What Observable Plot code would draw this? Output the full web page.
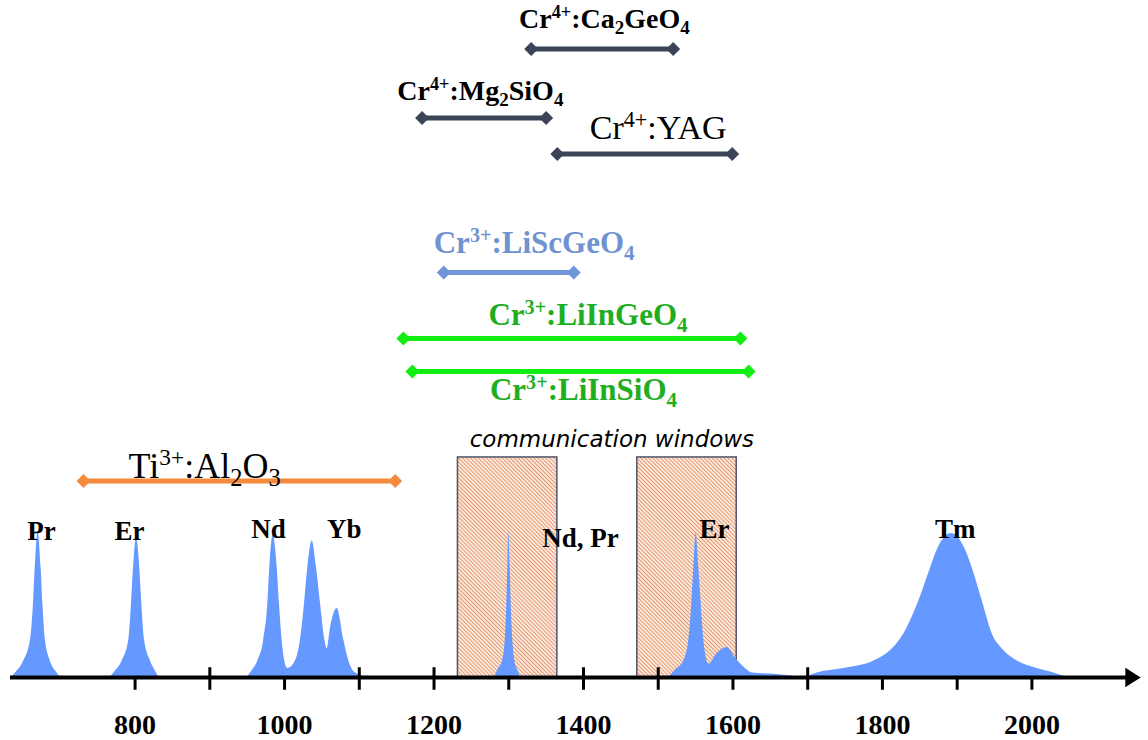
<!DOCTYPE html>
<html>
<head>
<meta charset="utf-8">
<script src="https://cdn.jsdelivr.net/npm/d3@7"></script>
<script src="https://cdn.jsdelivr.net/npm/@observablehq/plot@0.6"></script>
<style>
  html, body { margin: 0; padding: 0; background: #fff; }
  #chart svg { display: block; overflow: visible; }
</style>
</head>
<body>
<div id="chart"></div>
<script>
// ---------------- DATA ----------------
// Tunable laser crystals: name (with ^{sup} / _{sub} markup), tuning range in nm
const crystals   = ["Cr^{4+}:Ca_{2}GeO_{4}", "Cr^{4+}:Mg_{2}SiO_{4}", "Cr^{4+}:YAG", "Cr^{3+}:LiScGeO_{4}", "Cr^{3+}:LiInGeO_{4}", "Cr^{3+}:LiInSiO_{4}", "Ti^{3+}:Al_{2}O_{3}"];
const tuneStart  = [1330, 1184, 1365, 1213, 1159, 1171, 731];
const tuneEnd    = [1520, 1350, 1599, 1387, 1610, 1621, 1148];

// Telecom communication windows (nm)
const windowStart = [1232, 1472];
const windowEnd   = [1365, 1605];

// Rare-earth emission bands: [wavelength nm, relative intensity]
const prBand    = [[634.6,0],[640,0.03],[651,0.11],[660,0.25],[664,0.49],[666.3,0.73],[670.3,0.97],[674.3,0.73],[676.6,0.49],[680,0.25],[686.6,0.11],[695.6,0.03],[700,0]];
const er800Band = [[767,0],[771.5,0.03],[782.7,0.11],[791.6,0.25],[795.2,0.49],[797.9,0.73],[801.9,0.93],[806.3,0.73],[809,0.49],[812.6,0.25],[820.6,0.11],[828.6,0.03],[831.7,0]];
const ndYbBand  = [[950,0],[954.4,0.03],[964.2,0.11],[972.2,0.25],[977.6,0.49],[980.2,0.73],[984.8,0.95],[990.2,0.73],[993.2,0.49],[996.8,0.25],[1000.3,0.11],[1004.3,0.06],[1014.6,0.11],[1021.3,0.25],[1026.7,0.49],[1031.1,0.73],[1037,0.91],[1042.8,0.73],[1048.2,0.49],[1053.9,0.25],[1057.1,0.19],[1061.5,0.33],[1070.4,0.46],[1079.3,0.25],[1086,0.11],[1095,0.03],[1112.7,0]];
const ndPrBand  = [[1280.9,0],[1285.4,0.05],[1291.6,0.11],[1295.3,0.25],[1297.4,0.49],[1298.7,0.73],[1300,0.97],[1301.9,0.73],[1303.3,0.49],[1305.4,0.25],[1308.1,0.11],[1312.1,0.05],[1315.7,0]];
const er1550Band= [[1514.2,0],[1523.1,0.05],[1534.2,0.11],[1540.9,0.25],[1544.9,0.49],[1547.6,0.73],[1550.8,0.96],[1554.3,0.73],[1557.5,0.49],[1561,0.25],[1567.7,0.09],[1578.9,0.16],[1592.3,0.2],[1603.4,0.13],[1614.5,0.07],[1625.8,0.03],[1659.2,0.02],[1690,0]];
const tmBand    = [[1697.1,0],[1712.8,0.03],[1748.4,0.06],[1788.5,0.11],[1810.9,0.18],[1828.6,0.29],[1848.7,0.51],[1864.4,0.73],[1873.3,0.85],[1892.1,0.96],[1911.2,0.85],[1920.2,0.73],[1933.6,0.51],[1947,0.29],[1962.4,0.18],[1980.4,0.11],[2007.1,0.06],[2029.4,0.03],[2047.3,0]];

// Ion labels
const ions = ["Pr", "Er", "Nd", "Yb", "Nd, Pr", "Er", "Tm"];

// Axis ticks
const tickValues  = [800, 900, 1000, 1100, 1200, 1300, 1400, 1500, 1600, 1700, 1800, 1900, 2000];
const crossTicks  = [900, 1100, 1200, 1400, 1500, 1700];
const tickLabels  = ["800", "1000", "1200", "1400", "1600", "1800", "2000"];
const windowTitle = "communication windows";

// ---------------- LAYOUT (not data) ----------------
const xDomain = [633.3, 2145.3];
const rowLevel     = [4.19, 3.73, 3.49, 2.70, 2.26, 2.04, 1.31];   // bar rows, in intensity units
const labelNm      = [1428, 1262, 1500, 1334, 1406, 1400, 893];
const labelLevel   = [4.33, 3.85, 3.59, 2.83, 2.35, 1.85, 1.33];
const labelSize    = [28, 28, 34, 31, 31, 31, 36];
const labelWeight  = ["bold", "bold", "normal", "bold", "bold", "bold", "normal"];
const barColor     = ["#3c4458", "#3c4458", "#3c4458", "#7096d8", "#12ee12", "#12ee12", "#f58a3c"];
const textColor    = ["#000", "#000", "#000", "#7092d0", "#1fae1f", "#1fae1f", "#000"];
const ionLabelNm    = [674.7, 792.5, 978.5, 1079.8, 1396, 1575.3, 1897.4];
const ionLabelLevel = [0.92, 0.92, 0.933, 0.933, 0.867, 0.933, 0.927];
const windowTop = 1.467;

// ---------------- BUILD ----------------
const bands = [prBand, er800Band, ndYbBand, ndPrBand, er1550Band, tmBand];
const spectrum = bands.flatMap((b, k) => b.map(([nm, v]) => ({band: k, nm, v})));
const bars = crystals.map((name, i) => ({name, x1: tuneStart[i], x2: tuneEnd[i], y: rowLevel[i], i}));
const ends = bars.flatMap(b => [{x: b.x1, y: b.y, i: b.i}, {x: b.x2, y: b.y, i: b.i}]);
const windows = windowStart.map((s, i) => ({x1: s, x2: windowEnd[i]}));

const serif = "'Liberation Serif', 'Times New Roman', serif";

const arrowSymbol = {
  draw(ctx, size) {
    const r = Math.sqrt(size / Math.PI);
    ctx.moveTo(r * 1.6, 0);
    ctx.lineTo(-r * 0.6, -r * 1.4);
    ctx.lineTo(-r * 0.6, r * 1.4);
    ctx.closePath();
  }
};

const marks = [
  Plot.rect(windows, {x1: "x1", x2: "x2", y1: 0, y2: windowTop, fill: "url(#hatch)", stroke: "#4f5568", strokeWidth: 1.5}),
  Plot.areaY(spectrum, {x: "nm", y: "v", z: "band", fill: "#6699ff", curve: "monotone-x"}),
  Plot.ruleY([0], {x1: xDomain[0], x2: xDomain[1] - 15, stroke: "#000", strokeWidth: 4}),
  Plot.dot([xDomain[1]], {x: d => d, y: 0, symbol: arrowSymbol, r: 7, fill: "#000", stroke: "none", dx: -11}),
  Plot.ruleX(tickValues, {x: d => d, y1: 0, y2: -0.085, stroke: "#000", strokeWidth: 3}),
  Plot.ruleX(crossTicks, {x: d => d, y1: 0, y2: 0.065, stroke: "#000", strokeWidth: 3}),
  Plot.text(tickLabels, {x: d => +d, y: 0, text: d => d, dy: 56, lineAnchor: "bottom", fontSize: 28, fontWeight: "bold", fontFamily: serif, fill: "#000"}),
  Plot.text(ions, {x: (d, i) => ionLabelNm[i], y: (d, i) => ionLabelLevel[i], text: d => d, lineAnchor: "bottom", fontSize: 27, fontWeight: "bold", fontFamily: serif, fill: "#000"}),
  Plot.text([windowTitle], {x: 1438, y: 1.54, text: d => d, lineAnchor: "bottom", fontSize: 23, fontStyle: "italic", fontFamily: "'DejaVu Sans', Verdana, sans-serif", fill: "#000"}),
];
bars.forEach((b, i) => {
  marks.push(Plot.ruleY([b], {y: "y", x1: "x1", x2: "x2", stroke: barColor[i], strokeWidth: 5}));
  marks.push(Plot.dot(ends.filter(e => e.i === i), {x: "x", y: "y", symbol: "diamond2", r: 6.3, fill: barColor[i], stroke: "none"}));
});
bars.forEach((b, i) => {
  marks.push(Plot.text([b], {x: () => labelNm[i], y: () => labelLevel[i], text: "name", lineAnchor: "bottom",
    fontSize: labelSize[i], fontWeight: labelWeight[i], fontFamily: serif, fill: textColor[i]}));
});

const svg = Plot.plot({
  width: 1148,
  height: 740,
  marginTop: 0, marginRight: 0, marginBottom: 0, marginLeft: 0,
  x: {domain: xDomain, range: [10, 1140], axis: null},
  y: {domain: [0, 1], range: [677, 527], axis: null},
  style: {background: "#fff", fontFamily: serif, overflow: "visible"},
  marks
});
document.getElementById("chart").appendChild(svg);

// hatch pattern for communication windows
const ns = "http://www.w3.org/2000/svg";
const defs = document.createElementNS(ns, "defs");
defs.innerHTML = `<pattern id="hatch" patternUnits="userSpaceOnUse" width="2.8" height="2.8" patternTransform="rotate(-45)">
  <rect width="2.8" height="2.8" fill="#fbe9dd"/>
  <line x1="0" y1="0" x2="0" y2="2.8" stroke="#dc7a45" stroke-width="1.4"/></pattern>`;
svg.insertBefore(defs, svg.firstChild);

// rich text: ^{..} superscript, _{..} subscript
svg.querySelectorAll("text").forEach(el => {
  const s = el.textContent;
  if (!/[\^_]\{/.test(s)) return;
  const F = parseFloat(getComputedStyle(el).fontSize) || 28;
  el.textContent = "";
  const re = /([\^_])\{([^}]*)\}|([^\^_]+)/g;
  let m, shift = 0;
  while ((m = re.exec(s))) {
    const t = document.createElementNS(ns, "tspan");
    let target = 0;
    if (m[1] === "^") { target = -0.36 * F; t.setAttribute("font-size", 0.65 * F); t.textContent = m[2]; }
    else if (m[1] === "_") { target = 0.22 * F; t.setAttribute("font-size", 0.68 * F); t.textContent = m[2]; }
    else { t.textContent = m[3]; }
    const d = target - shift;
    if (d) t.setAttribute("dy", d);
    shift = target;
    el.appendChild(t);
  }
});
</script>
</body>
</html>
